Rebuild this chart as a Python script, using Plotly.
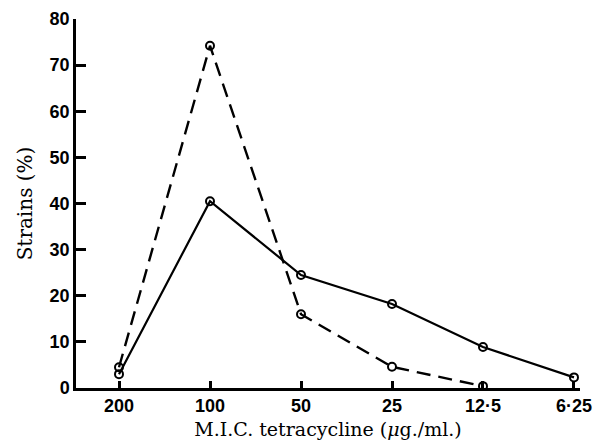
import plotly.graph_objects as go

tick_labels = ["200", "100", "50", "25", "12·5", "6·25"]
x_idx = [0, 1, 2, 3, 4, 5]
solid_vals = [3, 40.5, 24.5, 18.2, 8.9, 2.3]
dashed_x = [0, 1, 2, 3, 4]
dashed_vals = [4.5, 74.2, 16, 4.6, 0.4]

fig = go.Figure()
fig.add_trace(go.Scatter(x=dashed_x, y=dashed_vals, mode="lines+markers",
                         line=dict(color="black", width=2.4, dash="14px,8px"),
                         marker=dict(symbol="circle-open", size=8, color="black", line=dict(width=2)),
                         showlegend=False))
fig.add_trace(go.Scatter(x=x_idx, y=solid_vals, mode="lines+markers",
                         line=dict(color="black", width=2.2),
                         marker=dict(symbol="circle-open", size=8, color="black", line=dict(width=2)),
                         showlegend=False))

fig.update_layout(
    width=599, height=448,
    margin=dict(l=76, r=19, t=19, b=60, autoexpand=False),
    paper_bgcolor="white", plot_bgcolor="white",
    font=dict(family="Liberation Sans", color="black", size=15),
    xaxis=dict(range=[-0.4725, 5.066], tickvals=x_idx, ticktext=["<b>%s</b>" % t for t in tick_labels],
               showgrid=False, zeroline=False, showline=True, linecolor="black", linewidth=2.5,
               ticks="inside", ticklen=7, tickwidth=2.5, tickcolor="black",
               tickfont=dict(family="Liberation Sans", size=18),
               title=dict(text="M.I.C. tetracycline (<i>μ</i>g./ml.)",
                          font=dict(family="DejaVu Serif", size=19), standoff=8)),
    yaxis=dict(range=[0, 80], tickvals=[0, 10, 20, 30, 40, 50, 60, 70, 80],
               ticktext=["<b>%d</b>" % v for v in [0, 10, 20, 30, 40, 50, 60, 70, 80]],
               showgrid=False, zeroline=False, showline=True, linecolor="black", linewidth=2.5,
               ticks="inside", ticklen=10, tickwidth=2.5, tickcolor="black",
               tickfont=dict(family="Liberation Sans", size=18),
               title=dict(text="Strains (%)", font=dict(family="DejaVu Serif", size=20), standoff=12)),
)

fig.write_html("out.html")
